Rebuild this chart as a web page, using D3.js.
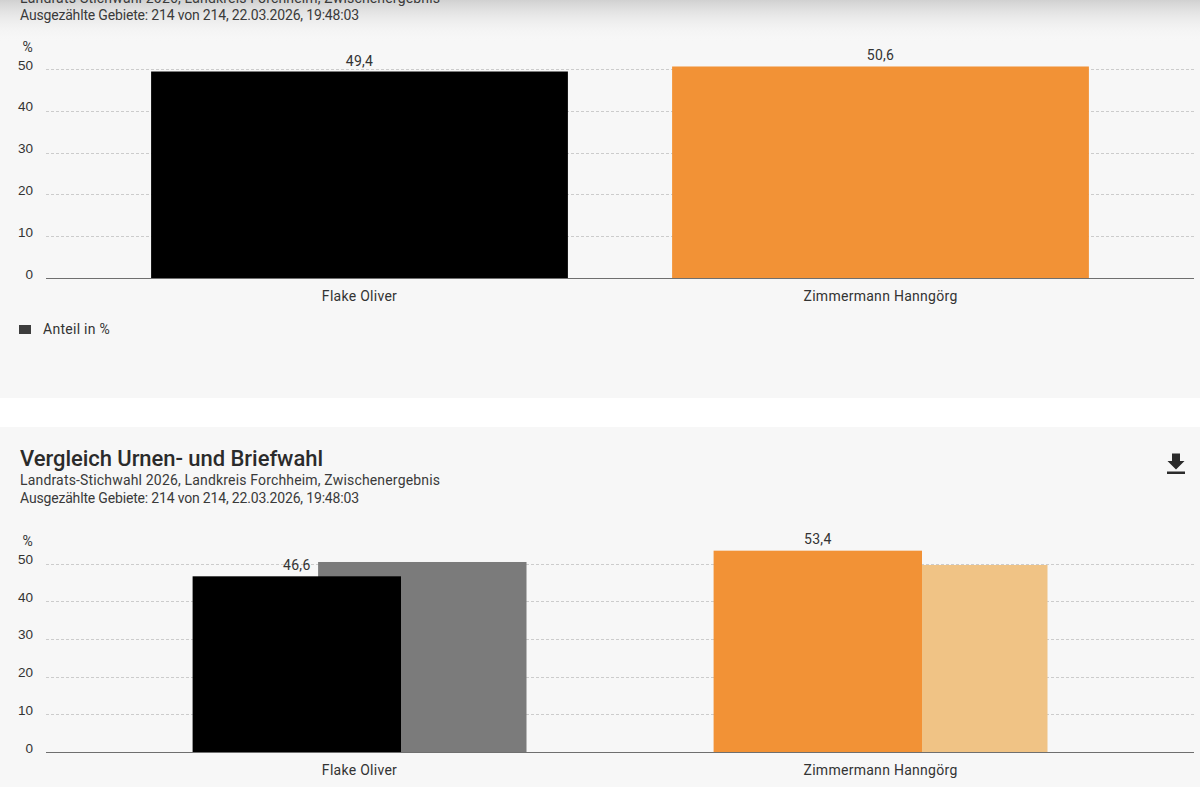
<!DOCTYPE html>
<html lang="de">
<head>
<meta charset="utf-8">
<title>Landrats-Stichwahl 2026</title>
<script src="https://cdn.jsdelivr.net/npm/d3@7/dist/d3.min.js"></script>
<style>
  html, body { margin: 0; background: #fff; overflow: hidden; }
  svg { display: block; }
  text { font-family: Roboto, "Noto Sans", sans-serif; fill: #333; }
  .val, .cat, .legend { font-size: 14px; letter-spacing: 0.02em; }
  .tick text { font-size: 13.5px; }
  .meta { font-size: 14px; fill: #3a3a3a; }
  .title { font-size: 22px; font-weight: 500; fill: #2b2b2b; }
</style>
</head>
<body>
<svg id="chart" width="1200" height="787"></svg>
<script>
const candidates = ["Flake Oliver", "Zimmermann Hanngörg"];
const shareValues = [49.4, 50.6];
const urneValues = [46.6, 53.4];
const briefValues = [50.4, 49.6];
const yTicks = [0, 10, 20, 30, 40, 50];

const subtitle = "Landrats-Stichwahl 2026, Landkreis Forchheim, Zwischenergebnis";
const counted = "Ausgezählte Gebiete: 214 von 214, 22.03.2026, 19:48:03";

const CAND_COLOR = ["#000000", "#f29236"];
const BRIEF_COLOR = ["#7b7b7b", "#f0c385"];

const svg = d3.select("#chart");

const defs = svg.append("defs");
const shade = defs.append("linearGradient")
  .attr("id", "top-shade").attr("x1", 0).attr("x2", 0).attr("y1", 0).attr("y2", 1);
shade.append("stop").attr("offset", 0).attr("stop-color", "#c4c4c4").attr("stop-opacity", 0.75);
shade.append("stop").attr("offset", 1).attr("stop-color", "#f7f7f7").attr("stop-opacity", 0);

// two cards, the first one scrolled off the top of the screenshot
svg.append("rect").attr("width", 1200).attr("height", 787).attr("fill", "#fff");
svg.append("rect").attr("width", 1200).attr("height", 398).attr("fill", "#f7f7f7");
svg.append("rect").attr("y", 427).attr("width", 1200).attr("height", 360).attr("fill", "#f7f7f7");
// shadow of the sticky header above the first card
svg.append("rect").attr("width", 1200).attr("height", 42).attr("fill", "url(#top-shade)");

const x = d3.scaleBand().domain(candidates).range([99, 1141]).paddingInner(0.2).paddingOuter(0.1);

function drawFrame(y, yLabelTop, catY) {
  const frame = svg.append("g");

  frame.append("g")
    .selectAll("line")
    .data(yTicks.filter((d) => d > 0))
    .join("line")
    .attr("x1", 46).attr("x2", 1194)
    .attr("y1", (d) => Math.round(y(d)) + 0.5)
    .attr("y2", (d) => Math.round(y(d)) + 0.5)
    .attr("stroke", "#cccccc")
    .attr("stroke-dasharray", "3,2");

  const axis = frame.append("g")
    .attr("transform", "translate(33,0)")
    .call(d3.axisLeft(y).tickValues(yTicks).tickSize(0).tickPadding(0).tickFormat(d3.format("d")));
  axis.select(".domain").remove();
  axis.selectAll("text").attr("dy", "-0.0em").attr("fill", "#333").style("font-family", "inherit");

  frame.append("text")
    .attr("class", "val")
    .attr("x", 33).attr("y", yLabelTop)
    .attr("text-anchor", "end")
    .text("%");

  frame.append("g")
    .selectAll("text")
    .data(candidates)
    .join("text")
    .attr("class", "cat")
    .attr("x", (d) => x(d) + x.bandwidth() / 2)
    .attr("y", catY)
    .attr("text-anchor", "middle")
    .text((d) => d);

  return frame;
}

function drawAxisLine(y0) {
  svg.append("line")
    .attr("x1", 46).attr("x2", 1194)
    .attr("y1", y0).attr("y2", y0)
    .attr("stroke", "#6f6f6f")
    .attr("stroke-width", 1.2);
}

function drawHeader(lines) {
  lines.forEach((l) => {
    svg.append("text")
      .attr("class", l.cls)
      .attr("x", 20).attr("y", l.y)
      .attr("textLength", l.len)
      .attr("lengthAdjust", "spacing")
      .text(l.text);
  });
}

// Top chart
const y1 = d3.scaleLinear().domain([0, 50]).range([278, 69]);
drawHeader([
  { cls: "meta", y: 3, len: 420, text: subtitle },
  { cls: "meta", y: 20, len: 339, text: counted },
]);
drawFrame(y1, 52, 301);

svg.append("g")
  .selectAll("rect")
  .data(candidates)
  .join("rect")
  .attr("x", (d) => x(d))
  .attr("y", (d, i) => y1(shareValues[i]))
  .attr("width", x.bandwidth())
  .attr("height", (d, i) => y1(0) - y1(shareValues[i]))
  .attr("fill", (d, i) => CAND_COLOR[i]);

svg.append("g")
  .selectAll("text")
  .data(candidates)
  .join("text")
  .attr("class", "val")
  .attr("x", (d) => x(d) + x.bandwidth() / 2)
  .attr("y", (d, i) => y1(shareValues[i]) - 6)
  .attr("text-anchor", "middle")
  .text((d, i) => String(shareValues[i]).replace(".", ","));
drawAxisLine(278.5);

svg.append("rect").attr("x", 19).attr("y", 325).attr("width", 12).attr("height", 9).attr("fill", "#3d3d3d");
svg.append("text").attr("class", "legend").attr("x", 43).attr("y", 334).text("Anteil in %");

// Bottom chart
const y2 = d3.scaleLinear().domain([0, 50]).range([752, 563.5]);
drawHeader([
  { cls: "title", y: 466, len: 303, text: "Vergleich Urnen- und Briefwahl" },
  { cls: "meta", y: 485, len: 420, text: subtitle },
  { cls: "meta", y: 503, len: 339, text: counted },
]);
drawFrame(y2, 546, 775);

const pairWidth = x.bandwidth() / 2;
const xPair = d3.scalePoint().domain(["urne", "brief"]).range([41.5, 167]);

svg.append("g")
  .selectAll("rect")
  .data(candidates)
  .join("rect")
  .attr("x", (d) => x(d) + xPair("brief"))
  .attr("y", (d, i) => y2(briefValues[i]))
  .attr("width", pairWidth)
  .attr("height", (d, i) => y2(0) - y2(briefValues[i]))
  .attr("fill", (d, i) => BRIEF_COLOR[i]);

svg.append("g")
  .selectAll("rect")
  .data(candidates)
  .join("rect")
  .attr("x", (d) => x(d) + xPair("urne"))
  .attr("y", (d, i) => y2(urneValues[i]))
  .attr("width", pairWidth)
  .attr("height", (d, i) => y2(0) - y2(urneValues[i]))
  .attr("fill", (d, i) => CAND_COLOR[i]);

svg.append("g")
  .selectAll("text")
  .data(candidates)
  .join("text")
  .attr("class", "val")
  .attr("x", (d) => x(d) + xPair("urne") + pairWidth / 2)
  .attr("y", (d, i) => y2(urneValues[i]) - 6.5)
  .attr("text-anchor", "middle")
  .text((d, i) => String(urneValues[i]).replace(".", ","));
drawAxisLine(752.5);

// download icon
svg.append("path")
  .attr("d", "M1172 453.5h8v7.5h4.5l-8.5 8.5l-8.5-8.5h4.5z M1167 471.5h18v2.5h-18z")
  .attr("fill", "#2b2b2b");
</script>
</body>
</html>
